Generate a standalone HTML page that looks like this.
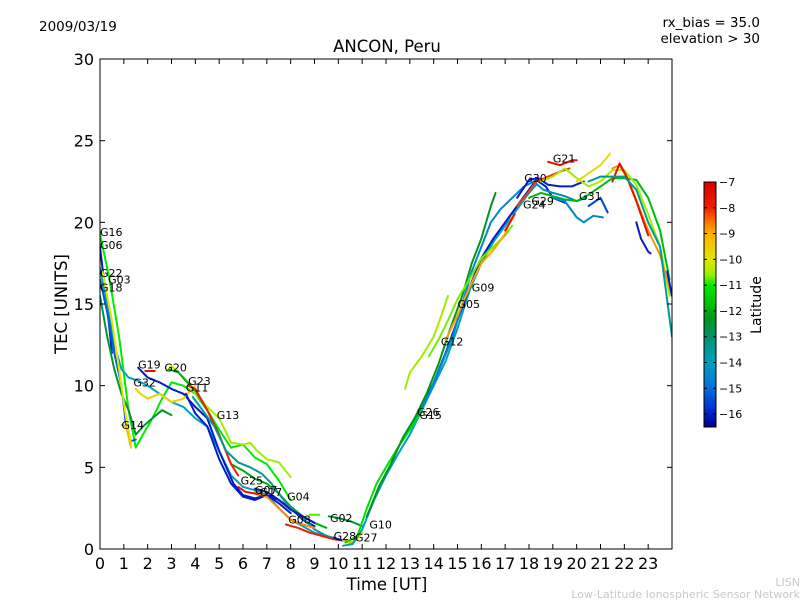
<!DOCTYPE html>
<html><head><meta charset="utf-8"><style>
html,body{margin:0;padding:0;background:#fff;}
svg{display:block;font-family:"DejaVu Sans","Liberation Sans",sans-serif;}
</style></head><body>
<svg id="chart" width="800" height="600">
<rect x="0" y="0" width="800" height="600" fill="#fff"/>
<text x="39" y="31" font-size="13.5">2009/03/19</text>
<text x="760" y="27" font-size="13.5" text-anchor="end">rx_bias = 35.0</text>
<text x="760" y="43" font-size="13.5" text-anchor="end">elevation &gt; 30</text>
<text x="387" y="52" font-size="16.5" text-anchor="middle">ANCON, Peru</text>
<text x="387" y="590" font-size="16.5" text-anchor="middle">Time [UT]</text>
<text transform="translate(67,304) rotate(-90)" font-size="16.5" text-anchor="middle">TEC [UNITS]</text>
<text x="800" y="586" font-size="11" fill="#c8c8c8" text-anchor="end">LISN</text>
<text x="800" y="598" font-size="11" fill="#c8c8c8" text-anchor="end">Low-Latitude Ionospheric Sensor Network</text>
<g id="plot"></g>
<g id="axes"></g>
<g id="cbar"></g>
</svg>
<script>
const xTicks = [0,1,2,3,4,5,6,7,8,9,10,11,12,13,14,15,16,17,18,19,20,21,22,23];
const yTicks = [0,5,10,15,20,25,30];
const cbTicks = [-7,-8,-9,-10,-11,-12,-13,-14,-15,-16];
const trackNames = [];
const trackLats = [];
const trackTimes = [];
const trackTec = [];
function addTrack(n,lat,t,v){trackNames.push(n);trackLats.push(lat);trackTimes.push(t);trackTec.push(v);}
addTrack('G16',-11,[0,0.4,0.8,1.2,1.5,1.8,2.2,2.6,3.0,3.5,4.0,4.5,5.0,5.5,6.0,6.5,7.0,7.5,8.0],[19.3,16.5,13,8.5,6.2,7,8,9.2,10.2,10,9.5,8.5,7.3,6.2,6.4,5.6,5.2,4.2,3.0]);
addTrack('G06',-16,[0,0.2,0.4,0.5],[18.5,16,13.5,12]);
addTrack('G22',-14,[0,0.3,0.6,0.9,1.2,1.6,2,2.5,3,3.5,4,4.5,5,5.5,6,6.5,7,7.5,8,8.5,9,9.5],[17.2,15,12.5,11,10.5,10.3,10,9.5,9,8.7,8,7.5,6,4.5,3.8,3.6,3.3,2.5,1.8,1.4,1.0,0.8]);
addTrack('G03',-15.2,[0,0.3,0.6,0.9,1.1,1.3,1.5],[16.5,14.5,12,10,7.5,6.6,6.7]);
addTrack('G18',-12.5,[0,0.3,0.6,0.9,1.2,1.5,1.8,2.2,2.6,3],[15.5,13,11,9.5,8.5,7,7.5,8,8.5,8.2]);
addTrack('G14',-10,[0.1,0.5,0.8,1.1,1.3],[17,14,11,8,6.5]);
addTrack('G14b',-9.3,[0.9,1.1,1.3],[7.6,7.5,6.2]);
addTrack('G19',-16,[1.6,2,2.5,3,3.5,4,4.5,5,5.3,5.6,6,6.5,7,7.5,8],[11.1,10.5,10.2,9.8,9.5,8.7,8,6,5,4,3.3,3.1,3.3,2.8,2.2]);
addTrack('G19b',-7.5,[1.9,2.3],[10.9,10.9]);
addTrack('G32',-9.6,[1.5,1.7,2,2.5,3,3.5,4],[9.8,9.5,9.2,9.5,9.0,9.2,10.0]);
addTrack('G20',-10.5,[2.8,3.0,3.3,3.7,4.0,4.5,5,5.5,6,6.3,6.6,7,7.5,8],[10.9,11.2,10.8,10.2,9.5,8.7,8,6.5,6.4,6.5,6.0,5.5,5.3,4.4]);
addTrack('G20b',-12,[2.9,3.3,3.6,4,4.5,5,5.5,6,6.5,7,7.5,8,8.5,9,9.5],[11,10.8,10.3,9.7,8.5,7.0,5.2,4.8,4.3,4.0,3.4,2.6,2.0,1.6,1.3]);
addTrack('G23',-8,[3.7,4,4.5,5,5.5,5.8],[10,9.8,8.5,7,5.2,4.5]);
addTrack('G11',-16,[3.6,4,4.5,5,5.5,6,6.5,7,7.5,8,8.5,9],[9.5,8.3,7.5,5.5,4,3.2,3.0,3.3,3.0,2.5,1.8,1.4]);
addTrack('G13',-13.5,[3.9,4.3,4.8,5.3,5.8,6.3,6.8,7.2,7.6,8.0,8.5,9,9.5,10],[9.3,8.5,7.5,6,5.3,5.0,4.6,4.0,3.2,2.5,1.9,1.2,0.8,0.6]);
addTrack('G25',-7.5,[5.8,6.1,6.5,7],[3.8,3.5,3.4,3.2]);
addTrack('G07',-8.7,[6.5,7,7.5,8,8.5,9],[3.5,3.2,2.5,1.8,1.5,1.3]);
addTrack('G04',-16,[6.5,7,7.5,8,8.5,9],[3.7,3.5,3.0,2.4,2.0,1.6]);
addTrack('G08',-8,[7.8,8.3,8.8,9.3,9.8,10.3,10.6],[1.5,1.3,1.0,0.8,0.6,0.5,0.4]);
addTrack('G02',-12.5,[9.6,10,10.5,11],[2.0,1.9,1.7,1.4]);
addTrack('G02b',-10.8,[8.8,9.2],[2.1,2.1]);
addTrack('G28',-16,[9.8,10.2,10.5],[0.7,0.5,0.4]);
addTrack('G27',-9.5,[10.2,10.5,10.8,11],[0.5,0.4,0.6,1]);
addTrack('G10',-14,[10.2,10.6,11,11.5,12,12.5,13,13.5,14,14.5,15,15.5,16,16.5,17,17.5,18,18.3],[0.2,0.3,1.2,3,4.5,5.8,7,8.5,10,11.5,13.5,15.8,17.5,18.8,19.8,20.8,21.8,22.3]);
addTrack('G27b',-11.2,[10.3,10.8,11.2,11.6,12,12.5,13,13.5],[0.4,0.8,2.5,4,5,6.2,7.3,8.5]);
addTrack('G26',-16,[13.2,13.5,14,14.5,15,15.5,16,16.5,17,17.5,18,18.3,18.7,19,19.5],[8,8.7,10.2,12,14,16,17.8,19,20,21,22,22.6,22.2,21.5,21.2]);
addTrack('G15',-14.5,[13.3,13.8,14.3,14.8,15.2,15.6,16,16.4,16.8,17.3,17.8,18.2,18.6,19,19.5,20,20.4],[8.2,9.5,11.2,13,15,17,18.5,20,20.8,21.5,22.2,22.5,22,21.8,21.6,21.3,21.5]);
addTrack('G12',-12.3,[11.2,11.7,12.2,12.7,13.2,13.7,14.2,14.7,15.2,15.6,16,16.4,16.6],[2,3.8,5.2,6.8,8,9.5,11.3,13.5,15.5,17.5,19,21,21.8]);
addTrack('G12b',-10.5,[12.8,13,13.5,14,14.3,14.6],[9.8,10.8,11.8,13,14.2,15.5]);
addTrack('G05',-10.7,[13.8,14.2,14.6,15,15.5,16,16.5,17,17.3],[11.8,12.8,14,15.3,16.5,17.8,18.5,19.2,19.8]);
addTrack('G09',-8.9,[14.5,15,15.5,16,16.5,17,17.3],[12.8,14.3,16,17.5,18.3,19.3,20.4]);
addTrack('G09b',-7.5,[17,17.4],[19.5,20.5]);
addTrack('G30',-16,[17.5,18,18.4,18.8,19.3,19.8,20.3],[21.5,22.6,22.7,22.3,22.2,22.2,22.5]);
addTrack('G24',-8.2,[17.5,17.9,18.3,18.8,19.3,19.7],[21,21.7,22.5,22.8,23.1,23.3]);
addTrack('G29',-11.8,[18,18.5,19,19.5,20,20.5,21,21.5,22,22.5,23,23.5,23.9],[21.5,21.8,21.6,21.4,21.3,21.7,22.2,22.7,22.7,22.6,21.5,19.5,16.5]);
addTrack('G21',-7.5,[18.8,19.3,19.8,20],[23.7,23.5,23.8,23.8]);
addTrack('G21b',-10.5,[18.5,19,19.5,20,20.5,21,21.5,22,22.5,23,23.5,23.9],[22.5,22.8,23.3,22.7,22.2,22.5,23.2,23.2,22.3,20.5,18.5,15.5]);
addTrack('G31',-14.5,[19,19.5,20,20.3,20.7,21.1],[21.5,21.3,20.3,20.0,20.4,20.3]);
addTrack('G31b',-15.5,[20.5,21,21.3],[21.0,21.5,20.6]);
addTrack('Gy',-9.8,[20,20.5,21,21.4],[22.5,23,23.5,24.2]);
addTrack('Go',-8.8,[21.5,21.8,22.2,22.6,23,23.5,24],[23.3,23.5,22.5,21,19.5,18,15.5]);
addTrack('Gr',-7.5,[21.5,21.8,22.1,22.5,23],[22.5,23.6,22.8,21.3,19.2]);
addTrack('Gb',-16,[22.5,22.7,23,23.1],[20,19,18.2,18.1]);
addTrack('Gb2',-16,[23.8,24],[17,15.5]);
addTrack('Gt',-13.5,[20.5,21,21.5,22,22.5,23,23.5,24],[22.5,22.8,22.8,22.8,22,20,18.5,13]);
const labelNames = ['G16','G06','G22','G03','G18','G19','G20','G23','G32','G11','G13','G14','G25','G07','G17','G04','G08','G02','G28','G27','G10','G26','G15','G12','G05','G09','G30','G29','G24','G21','G31'];
const labelT = [0,0,0,0.34,0,1.6,2.7,3.7,1.4,3.6,4.9,0.9,5.9,6.5,6.7,7.85,7.9,9.65,9.8,10.7,11.3,13.3,13.4,14.3,15,15.6,17.8,18.1,17.75,19,20.1];
const labelV = [19.4,18.6,16.9,16.5,16.0,11.3,11.1,10.3,10.2,9.9,8.2,7.6,4.2,3.6,3.5,3.2,1.8,1.9,0.8,0.7,1.5,8.4,8.2,12.7,15,16,22.7,21.3,21.1,23.9,21.6];

const NS='http://www.w3.org/2000/svg';
const X0=100,X1=672,Y0=549,Y1=59;
const xs=t=>X0+t*(X1-X0)/24;
const ys=v=>Y0-v*(Y0-Y1)/30;
const CB_TOP=182,CB_BOT=427,CB_MAX=-7,CB_MIN=-16.5;
const cs=l=>CB_TOP+(CB_MAX-l)*(CB_BOT-CB_TOP)/(CB_MAX-CB_MIN);
const cmapLat=[-7,-8,-8.5,-9,-10,-10.6,-11,-11.6,-12.3,-13,-14,-15,-16,-16.5];
const cmapRGB=[[215,0,0],[240,30,0],[250,110,0],[255,175,0],[225,230,0],[150,240,0],[0,235,0],[0,200,0],[0,150,30],[0,145,110],[0,160,190],[0,110,220],[0,30,200],[0,0,140]];
function latColor(l){
 if(l>=cmapLat[0])return `rgb(${cmapRGB[0]})`;
 for(let i=1;i<cmapLat.length;i++){if(l>=cmapLat[i]){const f=(cmapLat[i-1]-l)/(cmapLat[i-1]-cmapLat[i]);
  const a=cmapRGB[i-1],b=cmapRGB[i];return `rgb(${a.map((v,k)=>Math.round(v+(b[k]-v)*f)).join(',')})`;}}
 return `rgb(${cmapRGB[cmapRGB.length-1]})`;}
function mk(tag,attrs,parent){const e=document.createElementNS(NS,tag);for(const k in attrs)e.setAttribute(k,attrs[k]);parent.appendChild(e);return e;}
const plot=document.getElementById('plot'),axes=document.getElementById('axes'),cbar=document.getElementById('cbar');
const cp=mk('clipPath',{id:'clip'},plot);
mk('rect',{x:X0,y:Y1,width:X1-X0,height:Y0-Y1},cp);
const lines=mk('g',{'clip-path':'url(#clip)'},plot);
for(let i=0;i<trackNames.length;i++){
 const d=trackTimes[i].map((t,j)=>(j?'L':'M')+xs(t).toFixed(1)+','+ys(trackTec[i][j]).toFixed(1)).join(' ');
 const p=mk('path',{d:d,fill:'none',stroke:latColor(trackLats[i]),'stroke-width':2,'stroke-linejoin':'round','stroke-linecap':'round'},lines);
 
 
}
for(let i=0;i<labelNames.length;i++){
 const tx=mk('text',{x:xs(labelT[i]),y:ys(labelV[i])+4,'font-size':11,fill:'#000'},plot);
 tx.textContent=labelNames[i];
 
 
}
const frame=mk('rect',{x:X0,y:Y1,width:X1-X0,height:Y0-Y1,fill:'none',stroke:'#000','stroke-width':1},axes);


xTicks.forEach(t=>{const x=xs(t);
 mk('line',{x1:x,x2:x,y1:Y0,y2:Y0-5,stroke:'#000'},axes);mk('line',{x1:x,x2:x,y1:Y1,y2:Y1+5,stroke:'#000'},axes);
 const tx=mk('text',{x:x,y:Y0+20,'font-size':16,'text-anchor':'middle'},axes);tx.textContent=t;
 
 });
yTicks.forEach(v=>{const y=ys(v);
 mk('line',{x1:X0,x2:X0+5,y1:y,y2:y,stroke:'#000'},axes);mk('line',{x1:X1,x2:X1-5,y1:y,y2:y,stroke:'#000'},axes);
 const tx=mk('text',{x:X0-6,y:y+6,'font-size':16,'text-anchor':'end'},axes);tx.textContent=v;
 
 });
const defs=mk('defs',{},cbar);const lg=mk('linearGradient',{id:'cbg',x1:0,y1:0,x2:0,y2:1},defs);
cmapLat.forEach((l,k)=>mk('stop',{offset:(CB_MAX-l)/(CB_MAX-CB_MIN),'stop-color':`rgb(${cmapRGB[k]})`},lg));
const cr=mk('rect',{x:704,y:CB_TOP,width:12,height:CB_BOT-CB_TOP,fill:'url(#cbg)',stroke:'#000','stroke-width':1},cbar);


cbTicks.forEach(l=>{const y=cs(l);
 mk('line',{x1:704,x2:707,y1:y,y2:y,stroke:'#000'},cbar);mk('line',{x1:716,x2:713,y1:y,y2:y,stroke:'#000'},cbar);
 const tx=mk('text',{x:719,y:y+4,'font-size':11},cbar);tx.textContent='\u2212'+(-l);
 
 });
const ct=mk('text',{transform:'translate(761,305) rotate(-90)','font-size':14,'text-anchor':'middle'},cbar);ct.textContent='Latitude';


</script>
</body></html>
